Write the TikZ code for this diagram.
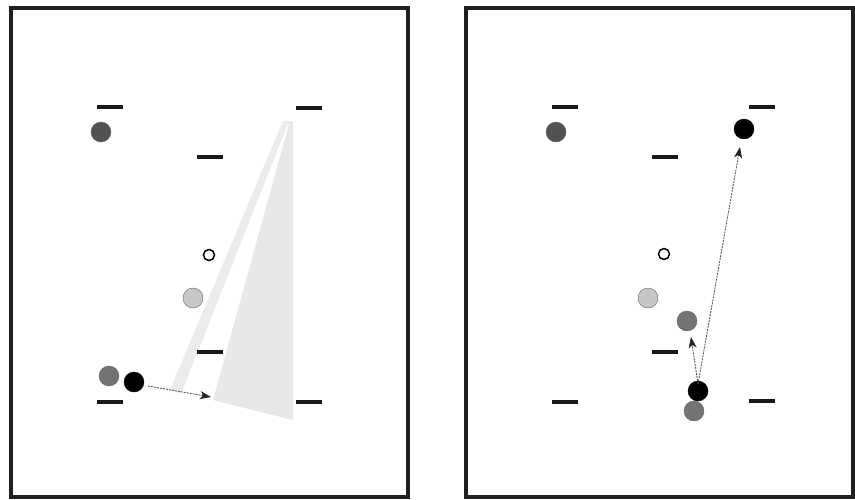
\documentclass[tikz,border=0pt]{standalone}
\usetikzlibrary{arrows.meta}
\begin{document}
\begin{tikzpicture}[x=1pt,y=-1pt,
  frame/.style={draw=black!88,line width=3.2pt},
  level/.style={rectangle,fill=black!90,minimum width=26pt,minimum height=3.4pt,inner sep=0pt},
  ball/.style={circle,minimum size=20pt,inner sep=0pt,draw=black!60,line width=0.4pt},
  tiny/.style={circle,minimum size=11pt,inner sep=0pt,draw=black,line width=1.5pt,fill=white},
  jump/.style={draw=black!70,line width=0.8pt,dash pattern=on 2pt off 1pt,-{Stealth[length=11pt,width=8pt,inset=3pt,color=black!85,fill=black!85]}}
]
\useasboundingbox (0,0) rectangle (855,499);
\fill[white] (0,0) rectangle (855,499);
% frames
\draw[frame] (11,8) rectangle (408,497);
\draw[frame] (466,8) rectangle (853,497);
% left panel wedges
\fill[black!9] (283,121) -- (293,121) -- (293,420) -- (213,400) -- (289,124) -- cycle;
\fill[black!8] (283,121) -- (289,121) -- (181,394) -- (170,390) -- cycle;
% left panel levels
\node[level] (La) at (110,107) {};
\node[level] (Lb) at (309,108) {};
\node[level] (Lc) at (210,157) {};
\node[level] (Ld) at (210,352) {};
\node[level] (Le) at (110,402) {};
\node[level] (Lf) at (309,402) {};
% left panel balls
\node[ball,fill=black!68] (L1) at (101,132) {};
\node[tiny] (L2) at (209,255) {};
\node[ball,fill=black!22] (L3) at (193,298) {};
\node[ball,fill=black!55] (L4) at (109,376) {};
\node[ball,fill=black,draw=black] (L5) at (134,382) {};
\coordinate (Lt) at (211,397);
\draw[jump] (L5.east) ++(4,4) -- (Lt);
% right panel levels
\node[level] (Ra) at (565,107) {};
\node[level] (Rb) at (762,107) {};
\node[level] (Rc) at (665,157) {};
\node[level] (Rd) at (665,352) {};
\node[level] (Re) at (565,402) {};
\node[level] (Rf) at (762,401) {};
% right panel balls
\node[ball,fill=black!68] (R1) at (556,132) {};
\node[ball,fill=black,draw=black] (R2) at (744,129) {};
\node[tiny] (R3) at (664,254) {};
\node[ball,fill=black!22] (R4) at (648,298) {};
\node[ball,fill=black!55] (R5) at (687,321) {};
\node[ball,fill=black!55] (R7) at (694,411) {};
\node[ball,fill=black,draw=black] (R6) at (698,391) {};
\coordinate (Rs) at (698,384);
\coordinate (Rt1) at (740,147);
\coordinate (Rt2) at (691,337);
\draw[jump] (Rs) -- (Rt1);
\draw[jump] (Rs) -- (Rt2);
\end{tikzpicture}
\end{document}
